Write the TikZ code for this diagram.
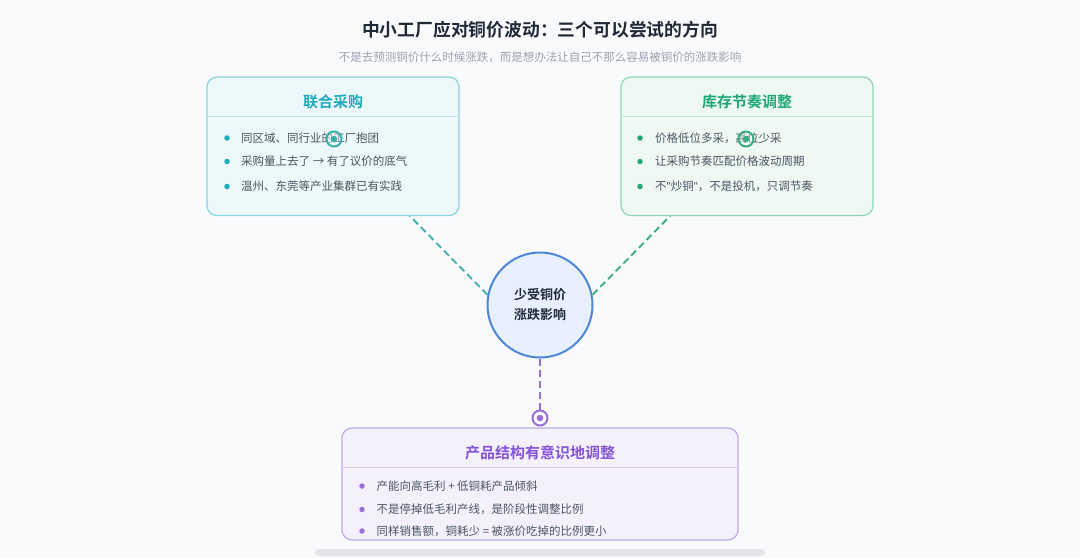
\documentclass[tikz,border=0pt]{standalone}
\usepackage{fontspec}
\setmainfont{Noto Sans CJK SC}[BoldFont={Noto Sans CJK SC Bold}]
\newfontfamily\latinq{Liberation Sans}
\usetikzlibrary{calc}
\definecolor{bg}{HTML}{F8FAFC}
\definecolor{titlec}{HTML}{1F2937}
\definecolor{subc}{HTML}{9CA3AF}
\definecolor{bodyc}{HTML}{4B5563}
\definecolor{cyanA}{HTML}{1FA9BE}
\definecolor{cyanF}{HTML}{EDF8FA}
\definecolor{cyanD}{HTML}{8AD3DC}
\definecolor{cyanL}{HTML}{3AB0A8}
\definecolor{greenA}{HTML}{1FA872}
\definecolor{greenF}{HTML}{EEF9F4}
\definecolor{greenD}{HTML}{8ED6B5}
\definecolor{greenL}{HTML}{3AAA80}
\definecolor{purA}{HTML}{8453D6}
\definecolor{purF}{HTML}{F4F1FC}
\definecolor{purD}{HTML}{BCA9EA}
\definecolor{purL}{HTML}{9A6FD8}
\definecolor{hubF}{HTML}{E7F0FC}
\definecolor{hubD}{HTML}{4F86D6}
\definecolor{barc}{HTML}{E3E5E9}
\tikzset{
  card/.style={draw=#1, line width=1.2pt, rounded corners=10pt},
  cardtitle/.style={font=\fontsize{15}{18}\selectfont\bfseries, text=#1, anchor=center, inner sep=0pt},
  item/.style={font=\fontsize{11.5}{14}\selectfont, text=bodyc, anchor=west, inner sep=0pt},
  dot/.style={circle, fill=#1, minimum size=5.5pt, inner sep=0pt},
  link/.style={draw=#1, line width=1.8pt, dash pattern=on 7pt off 4pt},
  ring/.style={circle, draw=#1, line width=2pt, fill=white, fill opacity=0.35, minimum size=15pt, inner sep=0pt},
  ringdot/.style={circle, fill=#1, minimum size=6.5pt, inner sep=0pt},
}
\begin{document}
\begin{tikzpicture}[x=1pt,y=-1pt]
\fill[bg] (0,0) rectangle (1080,558);
\useasboundingbox (0,0) rectangle (1080,558);

% title
\node[font=\fontsize{17.8}{20}\selectfont\bfseries, text=titlec, inner sep=0pt] (title) at (540,30) {中小工厂应对铜价波动：三个可以尝试的方向};
\node[font=\fontsize{11.5}{14}\selectfont, text=subc, inner sep=0pt] (sub) at (540,57) {不是去预测铜价什么时候涨跌，而是想办法让自己不那么容易被铜价的涨跌影响};

% hub
\node[circle, draw=hubD, line width=2pt, fill=hubF, minimum size=105pt, inner sep=0pt, align=center,
  font=\fontsize{13}{20}\selectfont\bfseries, text=titlec] (hub) at (540,305) {少受铜价\\涨跌影响};

% marker coordinates
\coordinate (mL) at (334,139);
\coordinate (mR) at (746,139);
\coordinate (mB) at (540,418);

% connectors (under cards)
\draw[link=cyanL] (hub.169) -- (mL);
\draw[link=greenL] (hub.11) -- (mR);
\draw[link=purL] (hub.south) -- (mB);

% left card
\fill[cyanF, rounded corners=10pt] (207,77) rectangle (459,215.5);
\draw[cyanD!60, line width=0.8pt] (208,116) -- (458,116);
\draw[card=cyanD] (207,77) rectangle (459,215.5);
\node[cardtitle=cyanA] (tL) at (333,101.5) {联合采购};
\node[dot=cyanA] (bL1) at (227,138) {};
\node[dot=cyanA] (bL2) at (227,161.5) {};
\node[dot=cyanA] (bL3) at (227,186.5) {};
\node[item] (iL1) at (241,138) {同区域、同行业的工厂抱团};
\node[item] (iL2) at (241,161.5) {采购量上去了 → 有了议价的底气};
\node[item] (iL3) at (241,186.5) {温州、东莞等产业集群已有实践};

% right card
\fill[greenF, rounded corners=10pt] (621,77) rectangle (873,215.5);
\draw[greenD!60, line width=0.8pt] (622,116) -- (872,116);
\draw[card=greenD] (621,77) rectangle (873,215.5);
\node[cardtitle=greenA] (tR) at (747,101.5) {库存节奏调整};
\node[dot=greenA] (bR1) at (640,138) {};
\node[dot=greenA] (bR2) at (640,161.5) {};
\node[dot=greenA] (bR3) at (640,186.5) {};
\node[item] (iR1) at (655,138) {价格低位多采，高位少采};
\node[item] (iR2) at (655,161.5) {让采购节奏匹配价格波动周期};
\node[item] (iR3) at (655,186.5) {不{\latinq "}炒铜{\latinq "}，不是投机，只调节奏};

% bottom card
\fill[purF, rounded corners=10pt] (342,428) rectangle (738,540);
\draw[purD!60, line width=0.8pt] (343,467.5) -- (737,467.5);
\draw[card=purD] (342,428) rectangle (738,540);
\node[cardtitle=purA] (tB) at (540,452.5) {产品结构有意识地调整};
\node[dot=purL] (bB1) at (362,486) {};
\node[dot=purL] (bB2) at (362,509.5) {};
\node[dot=purL] (bB3) at (362,531) {};
\node[item] (iB1) at (376.5,486) {产能向高毛利 + 低铜耗产品倾斜};
\node[item] (iB2) at (376.5,509.5) {不是停掉低毛利产线，是阶段性调整比例};
\node[item] (iB3) at (376.5,531) {同样销售额，铜耗少 = 被涨价吃掉的比例更小};

% end markers
\node[ring=cyanL] (rL) at (mL) {};
\node[ringdot=cyanL] at (mL) {};
\node[ring=greenL] (rR) at (mR) {};
\node[ringdot=greenL] at (mR) {};
\node[ring=purL, fill opacity=1] (rB) at (mB) {};
\node[ringdot=purL] at (mB) {};

% scrollbar
\fill[barc, rounded corners=3pt] (315,549) rectangle (765,556);
\end{tikzpicture}
\end{document}
